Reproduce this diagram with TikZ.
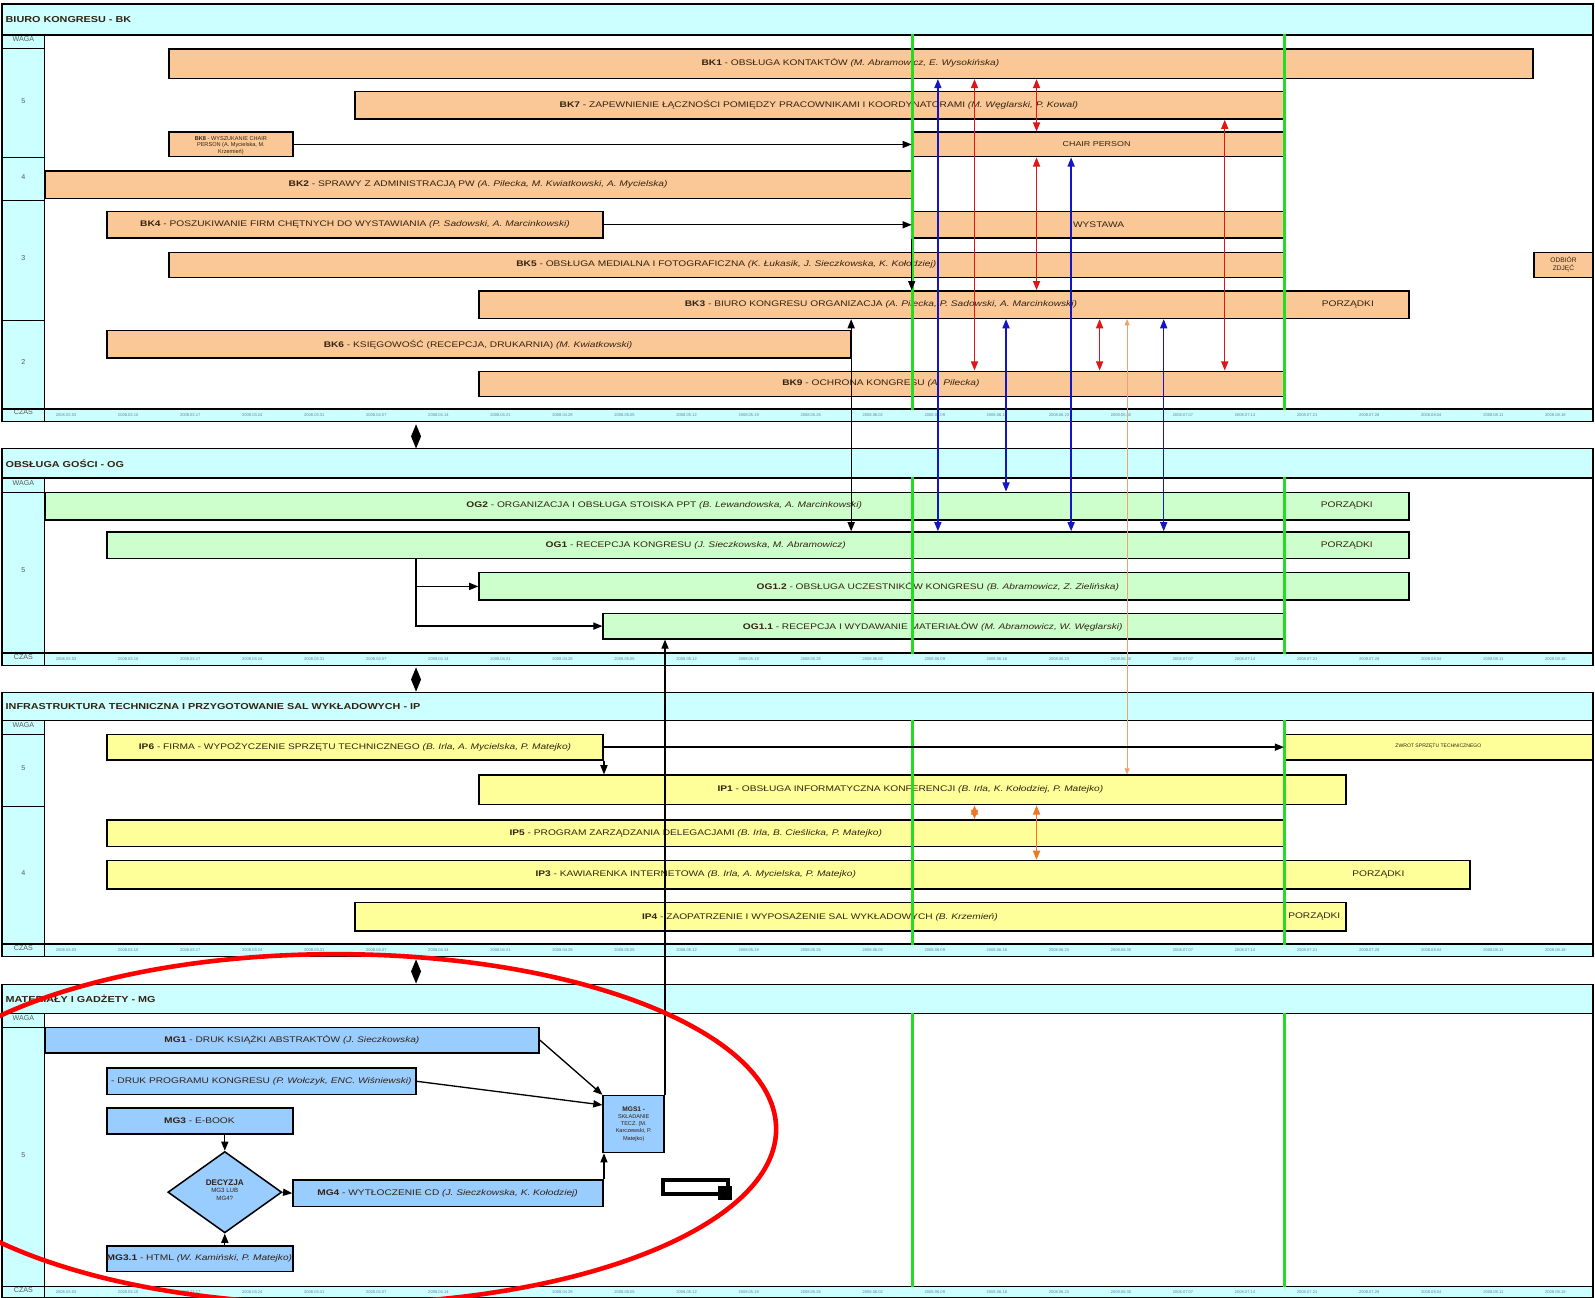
\documentclass[tikz,border=0pt]{standalone}
\usepackage{fontspec}
\setmainfont{Liberation Sans}
\newfontfamily\widefont[FakeStretch=1.25]{Liberation Sans}
\usetikzlibrary{fit,arrows.meta,shapes.geometric,calc}
\definecolor{hdr}{HTML}{CCFFFF}
\definecolor{peach}{HTML}{FAC896}
\definecolor{lgreen}{HTML}{CCFFCC}
\definecolor{lyellow}{HTML}{FFFF99}
\definecolor{lblue}{HTML}{99CCFF}
\definecolor{gline}{HTML}{22DD22}
\definecolor{rarr}{HTML}{E01515}
\definecolor{barr}{HTML}{1515C8}
\definecolor{oarr}{HTML}{F0A070}
\definecolor{oarrb}{HTML}{EE7722}
\definecolor{datec}{HTML}{6080A0}
\definecolor{txt}{HTML}{332211}
\newcommand\tsk[3]{\textbf{#1} - #2 \textit{#3}}
\newcommand\mksec[7]{%
 \node[hdrbox, fit={(2,#3)(1566,#4)}] (#1-hdr) {};
 \node[htitle, anchor=west] (#1-title) at ($(#1-hdr.west)+(4,0)$) {#2};
 \node[mainbox, fit={(44,#4)(1566,#6)}] (#1-main) {};
 \node[wcell, fit={(2,#4)(44,#5)}] (#1-waga) {WAGA};
 \node[hdrbox, fit={(2,#6)(1566,#7)}] (#1-czasrow) {};
 \node[wcell, fit={(2,#6)(44,#7)}] (#1-czas) {CZAS};
 \foreach \d [count=\i from 0] in {2008.03.03,2008.03.10,2008.03.17,2008.03.24,2008.03.31,2008.04.07,2008.04.14,2008.04.21,2008.04.28,2008.05.05,2008.05.12,2008.05.19,2008.05.26,2008.06.02,2008.06.09,2008.06.16,2008.06.23,2008.06.30,2008.07.07,2008.07.14,2008.07.21,2008.07.28,2008.08.04,2008.08.11,2008.08.18}
  {\node[datelbl] (#1-d\i) at ({65+61*\i},{(#6+#7)/2}) {\d};}
}
\newcommand\gbar[6]{\node[bar, fill=#6, fit={(#2,#3)(#4,#5)}] (#1) {};}
\begin{document}
\begin{tikzpicture}[x=1pt,y=-1pt,
 hdrbox/.style={draw=black, line width=1.2pt, fill=hdr, inner sep=0pt},
 mainbox/.style={draw=black, line width=1.2pt, fill=white, inner sep=0pt},
 wcell/.style={draw=black, line width=1.2pt, fill=hdr, inner sep=0pt, font=\fontsize{7}{8}\selectfont, text=black!65},
 htitle/.style={font=\widefont\bfseries\fontsize{8.5}{9}\selectfont, inner sep=0pt, text=txt},
 datelbl/.style={font=\fontsize{4}{5}\selectfont, text=datec, inner sep=0pt},
 bar/.style={draw=black, line width=1.5pt, inner sep=0pt},
 btext/.style={font=\widefont\fontsize{8}{9}\selectfont, inner sep=0pt, text=txt},
 stext/.style={font=\fontsize{5}{6}\selectfont, inner sep=0pt, text=txt, align=center},
 gl/.style={draw=gline, line width=2.5pt},
 tip/.tip={Triangle[length=9pt,width=7pt]},
 stip/.tip={Triangle[length=6pt,width=5pt]},
 blk/.style={draw=black, line width=1.3pt, -tip},
 rarrow/.style={draw=rarr, line width=1.3pt, tip-tip},
 barrow/.style={draw=barr, line width=1.3pt, tip-tip},
 oarrow/.style={draw=oarr, line width=0.8pt, stip-stip},
 obarrow/.style={draw=oarrb, line width=1.3pt, tip-tip},
 lnk/.style={diamond, fill=black, inner sep=0pt, minimum width=10pt, minimum height=24pt},
]
\clip (0,0) rectangle (1568,1276);
\fill[white] (0,0) rectangle (1568,1276);

% ---------------- sections ----------------
\mksec{bk}{BIURO KONGRESU - BK}{4}{34}{48}{402}{414}
\draw[line width=2.5pt] (bk-hdr.south west) -- (bk-hdr.south east);
\node[wcell, fit={(2,48)(44,155)}] (bk-w5) {5};
\node[wcell, fit={(2,155)(44,197)}] (bk-w4) {4};
\node[wcell, fit={(2,197)(44,315)}] (bk-w3) {3};
\node[wcell, fit={(2,315)(44,402)}] (bk-w2) {2};

\mksec{og}{OBSŁUGA GOŚCI - OG}{441}{470}{484}{642}{654}
\node[wcell, fit={(2,484)(44,642)}] (og-w5) {5};

\mksec{ip}{INFRASTRUKTURA TECHNICZNA I PRZYGOTOWANIE SAL WYKŁADOWYCH - IP}{681}{708}{722}{928}{940}
\node[wcell, fit={(2,722)(44,793)}] (ip-w5) {5};
\node[wcell, fit={(2,793)(44,928)}] (ip-w4) {4};

\mksec{mg}{MATERIAŁY I GADŻETY - MG}{968}{996}{1010}{1265}{1276}
\node[wcell, fit={(2,1010)(44,1265)}] (mg-w5) {5};

\node[lnk] (lnk1) at (409,429) {};
\node[lnk] (lnk2) at (409,668) {};
\node[lnk] (lnk3) at (409,955) {};

% ---------------- BK bars ----------------
\gbar{bk1}{166}{48}{1507}{77}{peach}
\node[btext] (bk1-t) at (836,62) {\tsk{BK1}{OBSŁUGA KONTAKTÓW}{(M. Abramowicz, E. Wysokińska)}};
\gbar{bk7}{349}{90}{1262}{117}{peach}
\node[btext] (bk7-t) at (805,103) {\tsk{BK7}{ZAPEWNIENIE ŁĄCZNOŚCI POMIĘDZY PRACOWNIKAMI I KOORDYNATORAMI}{(M. Węglarski, P. Kowal)}};
\gbar{bk8}{166}{130}{288}{154}{peach}
\node[stext, font=\fontsize{5.5}{6.5}\selectfont] (bk8-t) at (227,143) {\textbf{BK8} - WYSZUKANIE CHAIR\\PERSON (A. Mycielska, M.\\Krzemień)};
\gbar{chair}{897}{130}{1262}{154}{peach}
\node[btext, font=\widefont\fontsize{7}{8}\selectfont] (chair-t) at (1078,142) {CHAIR PERSON};
\gbar{bk2}{44}{168}{897}{195}{peach}
\node[btext] (bk2-t) at (470,181) {\tsk{BK2}{SPRAWY Z ADMINISTRACJĄ PW}{(A. Pilecka, M. Kwiatkowski, A. Mycielska)}};
\gbar{bk4}{105}{208}{593}{234}{peach}
\node[btext] (bk4-t) at (349,221) {\tsk{BK4}{POSZUKIWANIE FIRM CHĘTNYCH DO WYSTAWIANIA}{(P. Sadowski, A. Marcinkowski)}};
\gbar{wyst}{897}{208}{1262}{234}{peach}
\node[btext] (wyst-t) at (1080,221) {WYSTAWA};
\gbar{bk5}{166}{248}{1262}{273}{peach}
\node[btext] (bk5-t) at (714,260) {\tsk{BK5}{OBSŁUGA MEDIALNA I FOTOGRAFICZNA}{(K. Łukasik, J. Sieczkowska, K. Kołodziej)}};
\gbar{odb}{1508}{248}{1566}{273}{peach}
\node[stext, font=\fontsize{6.5}{7.5}\selectfont] (odb-t) at (1537,260) {ODBIÓR\\ZDJĘĆ};
\gbar{bk3}{471}{286}{1385}{313}{peach}
\node[btext] (bk3-t) at (866,299) {\tsk{BK3}{BIURO KONGRESU ORGANIZACJA}{(A. Pilecka, P. Sadowski, A. Marcinkowski)}};
\node[btext] (bk3-p) at (1325,299) {PORZĄDKI};
\gbar{bk6}{105}{325}{836}{352}{peach}
\node[btext] (bk6-t) at (470,339) {\tsk{BK6}{KSIĘGOWOŚĆ (RECEPCJA, DRUKARNIA)}{(M. Kwiatkowski)}};
\gbar{bk9}{471}{365}{1262}{390}{peach}
\node[btext] (bk9-t) at (866,377) {\tsk{BK9}{OCHRONA KONGRESU}{(A. Pilecka)}};

% ---------------- OG bars ----------------
\gbar{og2}{44}{484}{1385}{511}{lgreen}
\node[btext] (og2-t) at (653,497) {\tsk{OG2}{ORGANIZACJA I OBSŁUGA STOISKA PPT}{(B. Lewandowska, A. Marcinkowski)}};
\node[btext] (og2-p) at (1324,497) {PORZĄDKI};
\gbar{og1}{105}{523}{1385}{549}{lgreen}
\node[btext] (og1-t) at (684,536) {\tsk{OG1}{RECEPCJA KONGRESU}{(J. Sieczkowska, M. Abramowicz)}};
\node[btext] (og1-p) at (1324,536) {PORZĄDKI};
\gbar{og12}{471}{563}{1385}{590}{lgreen}
\node[btext] (og12-t) at (922,577) {\tsk{OG1.2}{OBSŁUGA UCZESTNIKÓW KONGRESU}{(B. Abramowicz, Z. Zielińska)}};
\gbar{og11}{593}{603}{1263}{628}{lgreen}
\node[btext] (og11-t) at (917,616) {\tsk{OG1.1}{RECEPCJA I WYDAWANIE MATERIAŁÓW}{(M. Abramowicz, W. Węglarski)}};

% ---------------- IP bars ----------------
\gbar{ip6}{105}{722}{593}{747}{lyellow}
\node[btext] (ip6-t) at (349,734) {\tsk{IP6}{FIRMA - WYPOŻYCZENIE SPRZĘTU TECHNICZNEGO}{(B. Irla, A. Mycielska, P. Matejko)}};
\gbar{zwrot}{1263}{722}{1566}{747}{lyellow}
\node[stext] (zwrot-t) at (1414,734) {ZWROT SPRZĘTU TECHNICZNEGO};
\gbar{ip1}{471}{762}{1323}{791}{lyellow}
\node[btext] (ip1-t) at (895,776) {\tsk{IP1}{OBSŁUGA INFORMATYCZNA KONFERENCJI}{(B. Irla, K. Kołodziej, P. Matejko)}};
\gbar{ip5}{105}{806}{1262}{832}{lyellow}
\node[btext] (ip5-t) at (684,819) {\tsk{IP5}{PROGRAM ZARZĄDZANIA DELEGACJAMI}{(B. Irla, B. Cieślicka, P. Matejko)}};
\gbar{ip3}{105}{846}{1445}{874}{lyellow}
\node[btext] (ip3-t) at (684,860) {\tsk{IP3}{KAWIARENKA INTERNETOWA}{(B. Irla, A. Mycielska, P. Matejko)}};
\node[btext] (ip3-p) at (1355,860) {PORZĄDKI};
\gbar{ip4}{349}{887}{1323}{915}{lyellow}
\node[btext] (ip4-t) at (806,901) {\tsk{IP4}{ZAOPATRZENIE I WYPOSAŻENIE SAL WYKŁADOWYCH}{(B. Krzemień)}};
\node[btext] (ip4-p) at (1292,901) {PORZĄDKI};

% ---------------- MG bars ----------------
\gbar{mg1}{44}{1010}{530}{1035}{lblue}
\node[btext] (mg1-t) at (287,1022) {\tsk{MG1}{DRUK KSIĄŻKI ABSTRAKTÓW}{(J. Sieczkowska)}};
\gbar{mg2}{105}{1050}{409}{1076}{lblue}
\node[btext] (mg2-t) at (257,1063) {- DRUK PROGRAMU KONGRESU \textit{(P. Wołczyk, ENC. Wiśniewski)}};
\gbar{mg3}{105}{1089}{288}{1115}{lblue}
\node[btext] (mg3-t) at (196,1102) {\textbf{MG3} - E-BOOK};
\node[bar, fill=lblue, diamond, minimum width=112pt, minimum height=80pt] (dec) at (221,1172) {};
\node[stext, font=\fontsize{6}{7.5}\selectfont] (dec-t) at (221,1170) {{\fontsize{8}{9.5}\selectfont\textbf{DECYZJA}}\\MG3 LUB\\MG4?};
\gbar{mg4}{288}{1160}{593}{1186}{lblue}
\node[btext] (mg4-t) at (440,1173) {\tsk{MG4}{WYTŁOCZENIE CD}{(J. Sieczkowska, K. Kołodziej)}};
\gbar{mg31}{105}{1225}{288}{1250}{lblue}
\node[btext] (mg31-t) at (196,1237) {\tsk{MG3.1}{HTML}{(W. Kamiński, P. Matejko)}};
\gbar{mgs1}{593}{1077}{653}{1133}{lblue}
\node[stext, font=\fontsize{5.5}{7}\selectfont] (mgs1-t) at (623,1105) {{\fontsize{6.5}{7.5}\selectfont\textbf{MGS1 -}}\\SKŁADANIE\\TECZ. (M.\\Karczewski, P.\\Matejko)};

% ---------------- green lines ----------------
\coordinate (g1) at (897,0);
\coordinate (g2) at (1263,0);
\foreach \s in {bk,og,ip,mg}{
 \draw[gl] (\s-main.north -| g1) -- (\s-main.south -| g1);
 \draw[gl] (\s-main.north -| g2) -- (\s-main.south -| g2);
}

% ---------------- connectors ----------------
\draw[blk] (bk8.east) -- (chair.west);
\draw[blk] (bk4.east) -- (wyst.west);
\draw[blk] (wyst.south west) -- (wyst.south west |- bk3.north);
\draw[blk, tip-tip] (bk3.south -| bk6.east) -- (og1.north -| bk6.east);

\coordinate (xa) at (922,0);
\coordinate (xb) at (958,0);
\coordinate (xc) at (1019,0);
\coordinate (xd) at (1053,0);
\coordinate (xe) at (1204,0);
\coordinate (xf) at (989,0);
\coordinate (xg) at (1081,0);
\coordinate (xh) at (1108,0);
\coordinate (xi) at (1144,0);
\coordinate (xj) at (409,0);

\draw[barrow] (bk1.south -| xa) -- (og1.north -| xa);
\draw[rarrow] (bk1.south -| xb) -- (bk9.north -| xb);
\draw[rarrow] (bk1.south -| xc) -- (chair.north -| xc);
\draw[rarrow] (chair.south -| xc) -- (bk3.north -| xc);
\draw[barrow] (chair.south -| xd) -- (og1.north -| xd);
\draw[rarrow] (bk7.south -| xe) -- (bk9.north -| xe);
\draw[barrow] (bk3.south -| xf) -- (og2.north -| xf);
\draw[rarrow] (bk3.south -| xg) -- (bk9.north -| xg);
\draw[oarrow] (bk3.south -| xh) -- (ip1.north -| xh);
\draw[barrow] (bk3.south -| xi) -- (og1.north -| xi);

\draw[blk] (og1.south -| xj) |- (og12.west);
\draw[blk] (og1.south -| xj) |- (og11.west);
\draw[blk] (mgs1.north east) -- (mgs1.north east |- og11.south);

\draw[blk] (ip6.east) -- (zwrot.west);
\draw[blk] (ip6.south east) -- (ip6.south east |- ip1.north);
\draw[obarrow] (ip1.south -| xb) -- (ip5.north -| xb);
\draw[obarrow] (ip1.south -| xc) -- (ip3.north -| xc);

\draw[blk] (mg1.east) -- (mgs1.north west);
\draw[blk] (mg2.east) -- ($(mgs1.north west)+(0,10)$);
\draw[blk] (mg3.south -| dec.north) -- (dec.north);
\draw[blk] (mg31.north -| dec.south) -- (dec.south);
\draw[blk] (dec.east) -- (mg4.west);
\draw[blk] (mg4.north east) -- (mg4.north east |- mgs1.south);

% ---------------- icon ----------------
\draw[line width=4pt] (708,1160) -- (652,1160) -- (652,1174) -- (706,1174);
\draw[line width=4pt] (706,1160) -- (716,1160) -- (716,1166);
\fill (706,1166) rectangle (720,1180);

% ---------------- red ellipse ----------------
\draw[draw=red, line width=4.5pt] (330,1110) ellipse [x radius=433, y radius=172];
\end{tikzpicture}
\end{document}
